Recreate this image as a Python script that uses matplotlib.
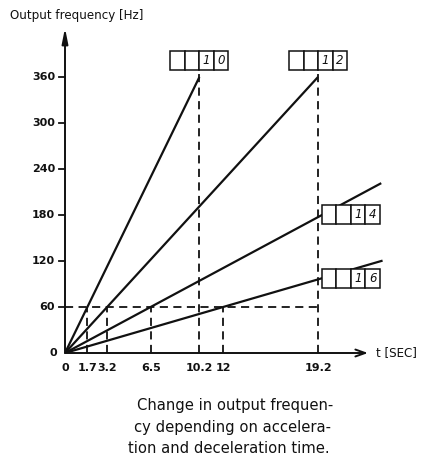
import matplotlib
matplotlib.use("Agg")
import matplotlib.pyplot as plt
from matplotlib.patches import Rectangle

# ---- data ----
base_freq = 60                      # Hz reached at the accel time
max_freq = 360                      # Hz
accel_times = [1.7, 3.2, 6.5, 12.0]  # s to reach 60 Hz
end_times = [10.2, 19.2, 24.0, 24.1]  # where each line is drawn to
display_codes = ["10", "12", "14", "16"]
ytick_vals = [0, 60, 120, 180, 240, 300, 360]
xtick_vals = [0, 1.7, 3.2, 6.5, 10.2, 12, 19.2]
xtick_labels = ["0", "1.7", "3.2", "6.5", "10.2", "12", "19.2"]
marker_times = [1.7, 3.2, 6.5, 12.0]   # dashed verticals up to 60 Hz

W, H = 422, 461
fig = plt.figure(figsize=(W / 100, H / 100), dpi=100)
fig.patch.set_facecolor("white")

# axes geometry in pixels
ax_l, ax_r, ax_t, ax_b = 65, 415, 28, 353
ax = fig.add_axes([ax_l / W, 1 - ax_b / H, (ax_r - ax_l) / W, (ax_b - ax_t) / H])
px_per_x = (318 - 65) / 19.2
px_per_y = (353 - 77) / 360.0
ax.set_xlim(0, (ax_r - ax_l) / px_per_x)
ax.set_ylim(0, (ax_b - ax_t) / px_per_y)
for s in ax.spines.values():
    s.set_visible(False)
ax.set_xticks([])
ax.set_yticks([])
ax.patch.set_alpha(0)

dx = 1 / px_per_x   # data per pixel
dy = 1 / px_per_y
K = "#111111"

# axes arrows
ax.annotate("", xy=(0, (ax_b - ax_t) * dy), xytext=(0, 0),
            arrowprops=dict(arrowstyle="-|>,head_length=0.9,head_width=0.18", color=K, lw=1.4,
                            shrinkA=0, shrinkB=0), annotation_clip=False)
ax.annotate("", xy=((368 - 65) * dx, 0), xytext=(0, 0),
            arrowprops=dict(arrowstyle="->,head_length=0.7,head_width=0.25", color=K, lw=1.4,
                            shrinkA=0, shrinkB=0), annotation_clip=False)

# y ticks
for v in ytick_vals:
    if v != 0:
        ax.plot([-6 * dx, 0], [v, v], color=K, lw=1.3, clip_on=False)
    ax.text(-10 * dx if v else -8 * dx, v, str(v), ha="right", va="center",
            fontsize=8, fontweight="bold", color=K)
# x tick labels
for v, lab in zip(xtick_vals, xtick_labels):
    ax.text(v, -15 * dy, lab, ha="center", va="center", fontsize=8,
            fontweight="bold", color=K)

dash = dict(color=K, lw=1.3, ls=(0, (4.5, 3)))
ax.plot([0, 19.2], [base_freq, base_freq], **dash)
for t in marker_times:
    ax.plot([t, t], [0, base_freq], **dash)

# lines
for a, te in zip(accel_times, end_times):
    slope = base_freq / a
    ax.plot([0, te], [0, slope * te], color=K, lw=1.6, solid_capstyle="butt", zorder=3)

cw = 14.5  # cell width px
bh = 19    # box height px


def draw_box(x0, y0, code):
    # x0,y0 data coords of lower-left
    for i in range(4):
        ax.add_patch(Rectangle((x0 + i * cw * dx, y0), cw * dx, bh * dy,
                               facecolor="white", edgecolor=K, lw=1.1, zorder=5,
                               clip_on=False))
    for j, ch in enumerate(code):
        ax.text(x0 + (2.5 + j) * cw * dx, y0 + bh * dy / 2, ch, ha="center", va="center",
                fontsize=8.5, style="italic", family="DejaVu Sans", color=K, zorder=6)


# boxes for lines 1,2 (top at 360 Hz)
for i in range(2):
    te = end_times[i]
    ax.plot([te, te], [0, max_freq + 7 * dy], **dash)
    draw_box(te - 2 * cw * dx, max_freq + 7 * dy, display_codes[i])
# boxes for lines 3,4 centred on the line just right of 19.2 s
for i in range(2, 4):
    xl = 19.2 + 4 * dx
    yv = base_freq / accel_times[i] * xl
    draw_box(xl, yv - bh * dy / 2, display_codes[i])

# labels
fig.text(10 / W, 1 - 15 / H, "Output frequency [Hz]", fontsize=8.6, ha="left", va="center", color=K)
fig.text(376 / W, 1 - 353 / H, "t [SEC]", fontsize=8.6, ha="left", va="center", color=K)

cap = ["Change in output frequen-", "cy depending on accelera-", "tion and deceleration time."]
cap_x = [137, 134, 128]
cap_y = [405, 427, 448]
for s, x, y in zip(cap, cap_x, cap_y):
    fig.text(x / W, 1 - y / H, s, fontsize=10.6, ha="left", va="center", color=K)

fig.savefig("out.png", dpi=100, facecolor="white")
